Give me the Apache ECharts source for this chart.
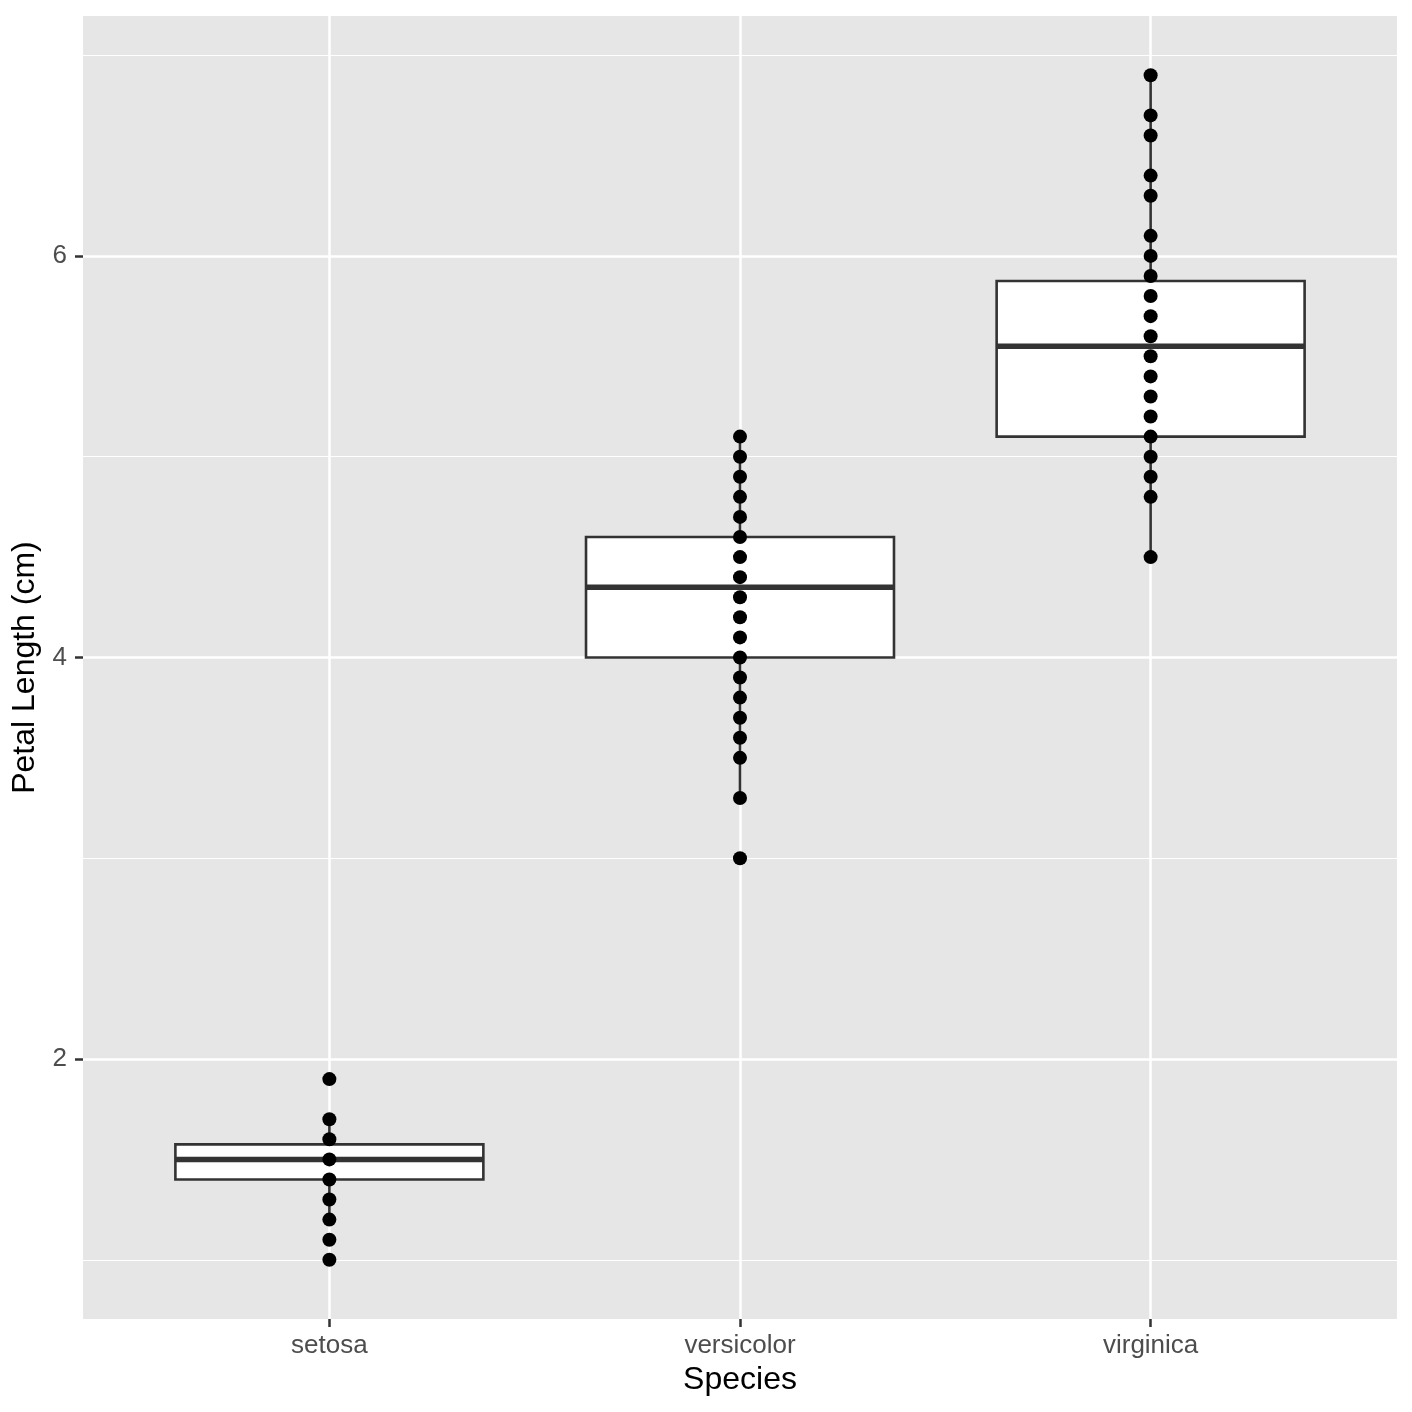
<!DOCTYPE html>
<html>
<head>
<meta charset="utf-8">
<script src="https://cdn.jsdelivr.net/npm/echarts@6/dist/echarts.min.js"></script>
<style>
    html, body { margin: 0; padding: 0; background: #fff; }
    #chart { width: 1412px; height: 1412px; }
</style>
</head>
<body>
<div id="chart"></div>
<script>
    // categories and values
    var species = ['setosa', 'versicolor', 'virginica'];
    // box stats: lower whisker, Q1, median, Q3, upper whisker
    var boxLow    = [1.2, 3.3, 4.5];
    var boxQ1     = [1.4, 4.0, 5.1];
    var boxMedian = [1.5, 4.35, 5.55];
    var boxQ3     = [1.575, 4.6, 5.875];
    var boxHigh   = [1.7, 5.1, 6.9];
    // distinct petal lengths seen per species
    var setosaPts     = [1.0, 1.1, 1.2, 1.3, 1.4, 1.5, 1.6, 1.7, 1.9];
    var versicolorPts = [3.0, 3.3, 3.5, 3.6, 3.7, 3.8, 3.9, 4.0, 4.1, 4.2, 4.3, 4.4, 4.5, 4.6, 4.7, 4.8, 4.9, 5.0, 5.1];
    var virginicaPts  = [4.5, 4.8, 4.9, 5.0, 5.1, 5.2, 5.3, 5.4, 5.5, 5.6, 5.7, 5.8, 5.9, 6.0, 6.1, 6.3, 6.4, 6.6, 6.7, 6.9];
    var yMajor = [2, 4, 6];
    var yMinor = [1, 3, 5, 7];
    var xTicks = [1, 2, 3];

    var boxData = species.map(function (s, i) {
        return [i + 1, boxLow[i], boxQ1[i], boxMedian[i], boxQ3[i], boxHigh[i]];
    });
    var pointData = [];
    [setosaPts, versicolorPts, virginicaPts].forEach(function (arr, i) {
        arr.forEach(function (v) { pointData.push([i + 1, v]); });
    });

    // panel grid lines (white, minor ones thinner)
    var gridLines = [];
    yMinor.forEach(function (v) {
        gridLines.push({ yAxis: v, lineStyle: { width: 1.2 } });
    });
    yMajor.forEach(function (v) {
        gridLines.push({ yAxis: v, lineStyle: { width: 2.5 } });
    });
    xTicks.forEach(function (v) {
        gridLines.push({ xAxis: v, lineStyle: { width: 2.5 } });
    });

    var chart = echarts.init(document.getElementById('chart'));
    var option = {
        animation: false,
        textStyle: { fontFamily: 'Liberation Sans, Arial, sans-serif' },
        grid: {
            left: 83, right: 15, top: 16, bottom: 93,
            show: true, backgroundColor: '#E6E6E6', borderWidth: 0
        },
        xAxis: {
            type: 'value', min: 0.4, max: 3.6,
            name: 'Species', nameLocation: 'middle', nameGap: 45,
            nameTextStyle: { fontSize: 32, color: '#000' },
            axisLine: { show: false },
            splitLine: { show: false },
            axisTick: { show: true, length: 8, customValues: xTicks, lineStyle: { color: '#333', width: 2.5 } },
            axisLabel: {
                customValues: xTicks, fontSize: 26, color: '#4D4D4D', margin: 14,
                formatter: function (v) { return species[Math.round(v) - 1] || ''; }
            }
        },
        yAxis: {
            type: 'value', min: 0.705, max: 7.195,
            name: 'Petal Length (cm)', nameLocation: 'middle', nameGap: 38,
            nameTextStyle: { fontSize: 32, color: '#000' },
            axisLine: { show: false },
            splitLine: { show: false },
            axisTick: { show: true, length: 8, customValues: yMajor, lineStyle: { color: '#333', width: 2.5 } },
            axisLabel: { customValues: yMajor, fontSize: 26, color: '#4D4D4D', margin: 16 }
        },
        series: [
            {
                type: 'scatter', data: [], z: 1, silent: true,
                markLine: {
                    z: 1, silent: true, symbol: 'none', label: { show: false },
                    lineStyle: { color: '#fff', type: 'solid' },
                    data: gridLines
                }
            },
            {
                type: 'custom', z: 2, data: boxData,
                renderItem: function (params, api) {
                    var x = api.value(0);
                    var half = 0.375;
                    var pLow = api.coord([x, api.value(1)]);
                    var pQ1 = api.coord([x, api.value(2)]);
                    var pMed = api.coord([x, api.value(3)]);
                    var pQ3 = api.coord([x, api.value(4)]);
                    var pHigh = api.coord([x, api.value(5)]);
                    var xl = api.coord([x - half, 0])[0];
                    var xr = api.coord([x + half, 0])[0];
                    var stroke = { stroke: '#333', lineWidth: 2.6 };
                    return {
                        type: 'group',
                        children: [
                            { type: 'line', shape: { x1: pLow[0], y1: pLow[1], x2: pQ1[0], y2: pQ1[1] }, style: stroke },
                            { type: 'line', shape: { x1: pQ3[0], y1: pQ3[1], x2: pHigh[0], y2: pHigh[1] }, style: stroke },
                            { type: 'rect', shape: { x: xl, y: pQ3[1], width: xr - xl, height: pQ1[1] - pQ3[1] },
                              style: { fill: '#fff', stroke: '#333', lineWidth: 2.6 } },
                            { type: 'line', shape: { x1: xl, y1: pMed[1], x2: xr, y2: pMed[1] },
                              style: { stroke: '#333', lineWidth: 5.5 } }
                        ]
                    };
                }
            },
            {
                type: 'scatter', z: 3, data: pointData,
                symbol: 'circle', symbolSize: 14,
                itemStyle: { color: '#000', opacity: 1 }
            }
        ]
    };
    chart.setOption(option);
</script>
</body>
</html>
